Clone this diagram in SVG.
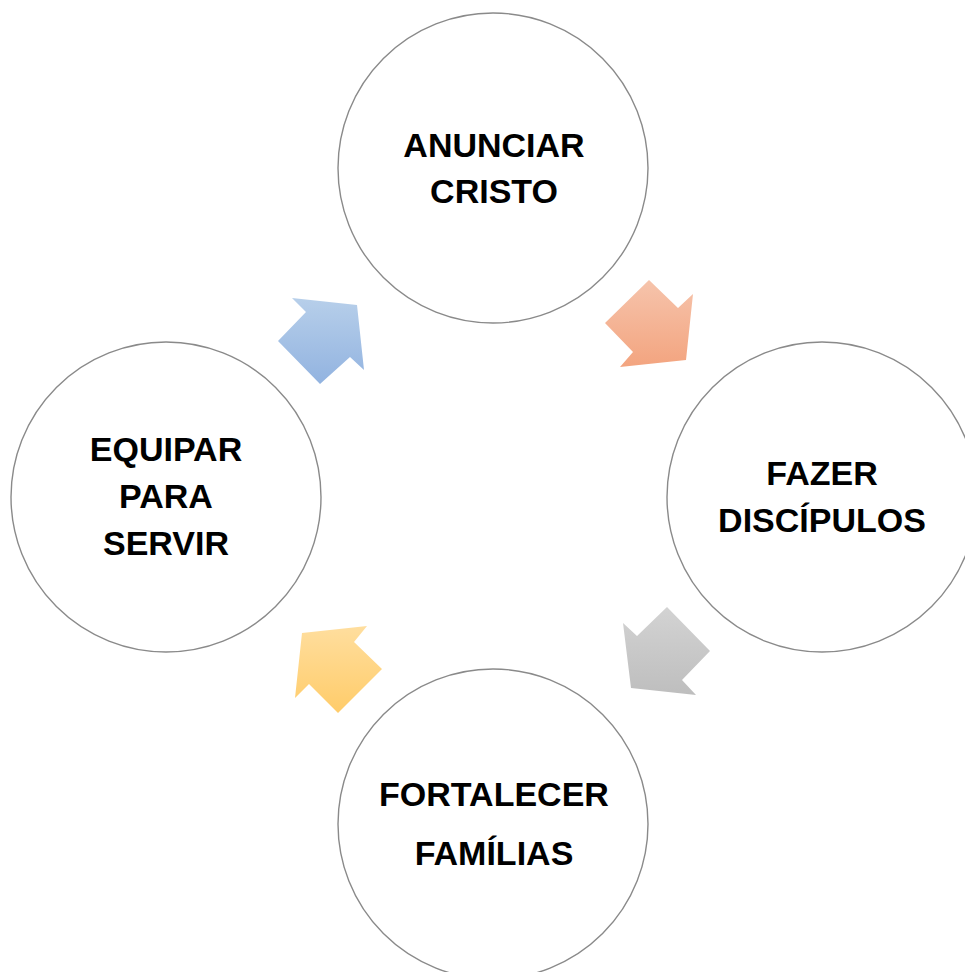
<svg xmlns="http://www.w3.org/2000/svg" width="965" height="972" viewBox="0 0 965 972">
<defs>
<linearGradient id="gOrange" x1="0" y1="0" x2="0" y2="1"><stop offset="0" stop-color="#F6C4AC"/><stop offset="1" stop-color="#F3A47F"/></linearGradient>
<linearGradient id="gGray" x1="0" y1="0" x2="0" y2="1"><stop offset="0" stop-color="#D3D3D3"/><stop offset="1" stop-color="#BEBEBE"/></linearGradient>
<linearGradient id="gYellow" x1="0" y1="0" x2="0" y2="1"><stop offset="0" stop-color="#FFDE9E"/><stop offset="1" stop-color="#FFCC6A"/></linearGradient>
<linearGradient id="gBlue" x1="0" y1="0" x2="0" y2="1"><stop offset="0" stop-color="#B7CFEA"/><stop offset="1" stop-color="#92B3E0"/></linearGradient>
<style>
.node circle{fill:#FFFFFF;stroke:#8A8A8A;stroke-width:1.4}
.node text{font-family:"Liberation Sans",Arial,sans-serif;font-weight:bold;font-size:34px;fill:#000000;text-anchor:middle}
</style>
</defs>
<rect width="965" height="972" fill="#FFFFFF"/>
<g id="connectors">
<polygon points="649,280 678,308 693,294 686,360 620,367 633,352 605,323" fill="url(#gOrange)"/>
<polygon points="667,607 710,651 682,680 696,695 631,688 623,623 637,636" fill="url(#gGray)"/>
<polygon points="302,633 367,626 354,642 382,669 338,713 309,684 295,698" fill="url(#gYellow)"/>
<polygon points="292,298 357,305 364,370 350,357 320,384 278,341 306,312" fill="url(#gBlue)"/>
</g>
<g id="node-anunciar" class="node">
<circle cx="493" cy="168" r="155"/>
<text x="494" y="157">ANUNCIAR</text>
<text x="494" y="203">CRISTO</text>
</g>
<g id="node-fazer" class="node">
<circle cx="822" cy="497" r="155"/>
<text x="822" y="485">FAZER</text>
<text x="822" y="532">DISCÍPULOS</text>
</g>
<g id="node-fortalecer" class="node">
<circle cx="493" cy="824" r="155"/>
<text x="494" y="806">FORTALECER</text>
<text x="494" y="865">FAMÍLIAS</text>
</g>
<g id="node-equipar" class="node">
<circle cx="166" cy="497" r="155"/>
<text x="166" y="461">EQUIPAR</text>
<text x="166" y="508">PARA</text>
<text x="166" y="555">SERVIR</text>
</g>
</svg>
